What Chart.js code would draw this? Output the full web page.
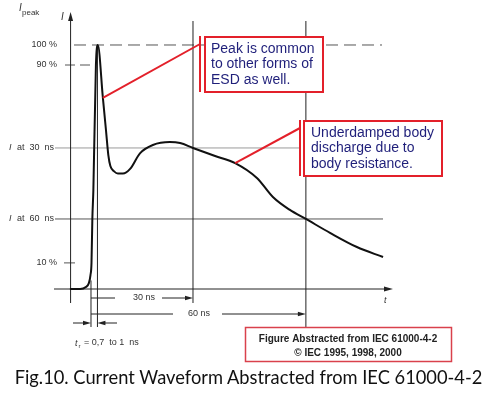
<!DOCTYPE html>
<html>
<head>
<meta charset="utf-8">
<script src="https://cdn.jsdelivr.net/npm/chart.js@4"></script>
<style>
  body { margin: 0; background: #fff; }
  #wrap { position: relative; width: 497px; height: 394px; }
  #chart { position: absolute; left: 0; top: 0; display: block; }
  #caption {
    position: absolute; left: 0; top: 366px; width: 497px; text-align: center;
    font-family: Lato, "Open Sans", sans-serif; font-size: 18.3px; color: #111; white-space: nowrap;
  }
</style>
</head>
<body>
<div id="wrap">
  <canvas id="chart" width="497" height="394"></canvas>
  <div id="caption">Fig.10. Current Waveform Abstracted from IEC 61000-4-2</div>
</div>
<script>
// --- data (time in ns from start of rise, current in % of I peak) ---
const timeNs = [-6.2, -3.2, -1.5, -0.6, -0.15, 0.15, 0.4, 0.7, 1.45, 2.0, 3.5, 4.4, 5.1, 5.7, 6.8, 7.9, 9.4,
  11.5, 14.4, 18.2, 23.2, 26.2, 30.0, 36.5, 42.4, 48.8, 53.5, 58.5, 63.2, 70.3, 78.2, 85.9];
const currentPct = [0, 0, 0.8, 2.5, 5.7, 10.7, 28.7, 40.6, 91.8, 100, 78.3, 65.2, 54.9, 50.4, 48.2, 47.3, 47.3,
  49.2, 55.6, 59.0, 60.2, 59.8, 57.8, 54.5, 51.6, 45.5, 37.7, 32.4, 28.7, 23.0, 17.2, 13.1];

// reference levels on the current axis
const levelLabels = ["100 %", "90 %", "at 30 ns", "at 60 ns", "10 %"];
const levelValues = [100, 91.8, 57.8, 28.7, 10.7];

// time markers
const markerLabels = ["30 ns", "60 ns"];
const markerTimes = [30, 63.2];
const riseTimes = [0, 1.9]; // start of rise, peak

// callouts: which curve point each one points at
const calloutPoints = [10, 24];
const calloutText = [
  ["Peak is common", "to other forms of", "ESD as well."],
  ["Underdamped body", "discharge due to", "body resistance."]
];
const sourceText = ["Figure Abstracted from IEC 61000-4-2", "\u00A9 IEC 1995, 1998, 2000"];

const RED = "#e3202a";
const NAVY = "#1f1f7a";
const FONT = '"Liberation Sans", Arial, sans-serif';

// --- small drawing helpers ---
function line(ctx, x1, y1, x2, y2, color, width, dash) {
  ctx.save();
  ctx.strokeStyle = color;
  ctx.lineWidth = width || 1;
  ctx.setLineDash(dash || []);
  ctx.beginPath();
  ctx.moveTo(x1, y1);
  ctx.lineTo(x2, y2);
  ctx.stroke();
  ctx.restore();
}

function arrowHead(ctx, tx, ty, dx, dy, len, half, color) {
  ctx.save();
  ctx.fillStyle = color;
  ctx.beginPath();
  ctx.moveTo(tx, ty);
  ctx.lineTo(tx - dx * len - dy * half, ty - dy * len + dx * half);
  ctx.lineTo(tx - dx * len + dy * half, ty - dy * len - dx * half);
  ctx.closePath();
  ctx.fill();
  ctx.restore();
}

function text(ctx, str, x, y, font, color, align) {
  ctx.save();
  ctx.font = font;
  ctx.fillStyle = color;
  ctx.textAlign = align || "left";
  ctx.textBaseline = "middle";
  ctx.fillText(str, x, y);
  ctx.restore();
}

// --- everything around the waveform ---
const figure = {
  id: "figure",
  beforeDatasetsDraw(chart) {
    const { ctx, scales: { x, y } } = chart;
    const X = v => x.getPixelForValue(v);
    const Y = v => y.getPixelForValue(v);
    const ink = "#222";
    const axisX = X(-6);
    const baseY = Y(0);

    // level lines
    line(ctx, 74, Y(levelValues[0]), 382, Y(levelValues[0]), "#555", 1, [12, 6]);
    line(ctx, 65, Y(levelValues[1]), X(1.4), Y(levelValues[1]), "#555", 1, [10, 5]);
    line(ctx, 55, Y(levelValues[2]), 300, Y(levelValues[2]), "#9a9a9a", 1);
    line(ctx, 55, Y(levelValues[3]), 383, Y(levelValues[3]), "#555", 1);
    line(ctx, 64, Y(levelValues[4]), 75, Y(levelValues[4]), "#555", 1);

    // level labels
    const lf = "9px " + FONT;
    const lfi = "italic 9px " + FONT;
    text(ctx, levelLabels[0], 57, Y(levelValues[0]), lf, "#333", "right");
    text(ctx, levelLabels[1], 57, Y(levelValues[1]), lf, "#333", "right");
    text(ctx, levelLabels[4], 57, Y(levelValues[4]), lf, "#333", "right");
    [2, 3].forEach(i => {
      text(ctx, "I", 9, Y(levelValues[i]), lfi, "#333");
      text(ctx, levelLabels[i].replace(/ /g, "  "), 17, Y(levelValues[i]), lf, "#333");
    });

    // axes
    line(ctx, axisX, 303, axisX, 18, ink, 1);
    arrowHead(ctx, axisX, 12, 0, -1, 9, 2.5, ink);
    line(ctx, 54, baseY, 386, baseY, ink, 1);
    arrowHead(ctx, 393, baseY, 1, 0, 9, 2.5, ink);
    text(ctx, "I", 61, 17, "italic 10px " + FONT, "#333");
    text(ctx, "I", 19, 8, "italic 10px " + FONT, "#333");
    text(ctx, "peak", 22, 12.5, "8px " + FONT, "#333");
    text(ctx, "t", 384, 300, "italic 9px " + FONT, "#333");

    // time markers
    line(ctx, X(markerTimes[0]), 21, X(markerTimes[0]), 303, ink, 1);
    line(ctx, X(markerTimes[1]), 21, X(markerTimes[1]), 327, ink, 1);
    line(ctx, X(riseTimes[0]), Y(3.5), X(riseTimes[0]), 327, ink, 1);
    line(ctx, X(riseTimes[1]), Y(100), X(riseTimes[1]), 327, ink, 1);

    // dimension: 30 ns
    const x0 = X(riseTimes[0]);
    line(ctx, x0, 298, 115, 298, ink, 1);
    text(ctx, markerLabels[0], 144, 298, lf, "#333", "center");
    line(ctx, 162, 298, X(markerTimes[0]) - 6, 298, ink, 1);
    arrowHead(ctx, X(markerTimes[0]), 298, 1, 0, 8, 2.2, ink);
    // dimension: 60 ns
    line(ctx, x0, 314, 173, 314, ink, 1);
    text(ctx, markerLabels[1], 199, 314, lf, "#333", "center");
    line(ctx, 222, 314, X(markerTimes[1]) - 6, 314, ink, 1);
    arrowHead(ctx, X(markerTimes[1]), 314, 1, 0, 8, 2.2, ink);
    // rise time arrows
    line(ctx, 73, 323, x0 - 6, 323, ink, 1);
    arrowHead(ctx, x0, 323, 1, 0, 8, 2.2, ink);
    line(ctx, 117, 323, X(riseTimes[1]) + 6, 323, ink, 1);
    arrowHead(ctx, X(riseTimes[1]), 323, -1, 0, 8, 2.2, ink);
    text(ctx, "t", 75, 343, lfi, "#333");
    text(ctx, "r", 78.5, 346, "6px " + FONT, "#333");
    text(ctx, "= 0,7  to 1  ns", 84, 343, lf, "#333");
  },
  afterDatasetsDraw(chart) {
    const { ctx, scales: { x, y } } = chart;
    const X = v => x.getPixelForValue(v);
    const Y = v => y.getPixelForValue(v);
    const boxes = [
      { left: 205, top: 37, w: 118, h: 55, bar: 200, tx: 211 },
      { left: 304, top: 121, w: 138, h: 55, bar: 300, tx: 311 }
    ];
    boxes.forEach((b, i) => {
      const p = calloutPoints[i];
      line(ctx, X(timeNs[p]), Y(currentPct[p]), b.bar, b.top + 7, RED, 2);
      ctx.save();
      ctx.fillStyle = "#fff";
      ctx.fillRect(b.left, b.top, b.w, b.h);
      ctx.strokeStyle = RED;
      ctx.lineWidth = 2;
      ctx.strokeRect(b.left, b.top, b.w, b.h);
      ctx.restore();
      line(ctx, b.bar, b.top - 1, b.bar, b.top + b.h, RED, 2);
      calloutText[i].forEach((s, k) => text(ctx, s, b.tx, b.top + 12 + k * 15.5, "14px " + FONT, NAVY));
    });

    // source box
    ctx.save();
    ctx.fillStyle = "#fff";
    ctx.fillRect(245.5, 327.5, 206, 34);
    ctx.strokeStyle = "#d9414c";
    ctx.lineWidth = 1.5;
    ctx.strokeRect(245.5, 327.5, 206, 34);
    ctx.restore();
    text(ctx, sourceText[0], 348, 339, "bold 10px " + FONT, "#222", "center");
    text(ctx, sourceText[1], 348, 353, "bold 10px " + FONT, "#222", "center");
  }
};

new Chart(document.getElementById("chart"), {
  type: "line",
  data: {
    datasets: [{
      label: "ESD current",
      data: timeNs.map((t, i) => ({ x: t, y: currentPct[i] })),
      borderColor: "#111",
      borderWidth: 2,
      pointRadius: 0,
      cubicInterpolationMode: "monotone",
      fill: false
    }]
  },
  options: {
    responsive: false,
    animation: false,
    devicePixelRatio: 1,
    layout: { padding: 0 },
    plugins: { legend: { display: false }, tooltip: { enabled: false } },
    scales: {
      x: { type: "linear", display: false, min: -26.76, max: 119.41 },
      y: { type: "linear", display: false, min: -43.03, max: 118.44 }
    }
  },
  plugins: [figure]
});
</script>
</body>
</html>
